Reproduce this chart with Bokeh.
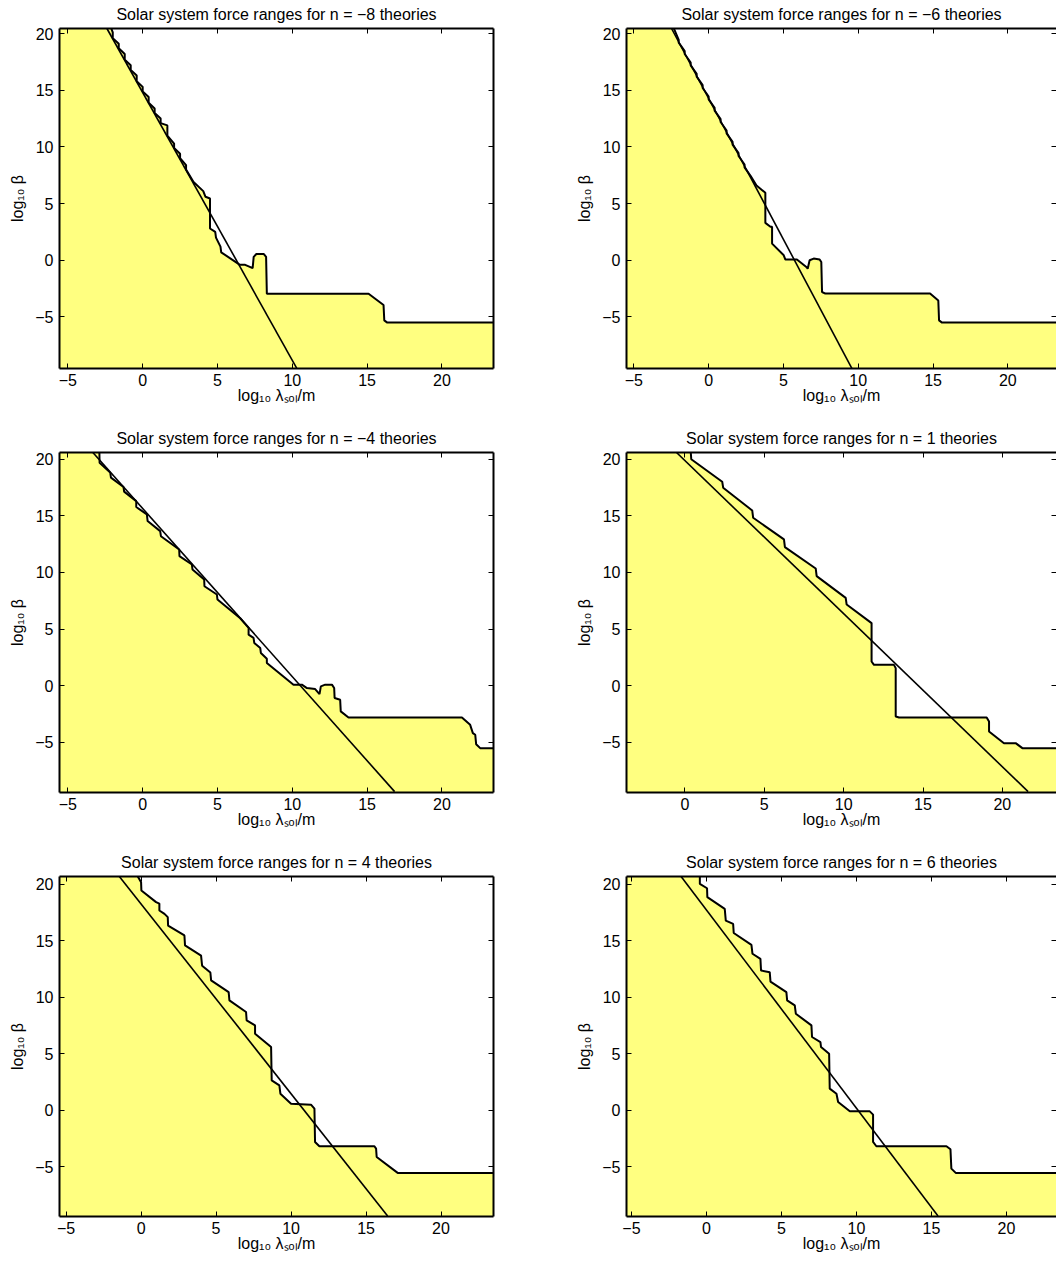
from bokeh.plotting import figure
from bokeh.models import Range1d, LinearAxis, FixedTicker
from bokeh.layouts import column, row
from bokeh.embed import file_html
from bokeh.resources import INLINE

# ---------------- data ----------------
n_values = [-8, -6, -4, 1, 4, 6]

x_ticks_full = [-5, 0, 5, 10, 15, 20]
x_ticks_n1 = [0, 5, 10, 15, 20]
y_ticks = [-5, 0, 5, 10, 15, 20]

# boundary of the allowed (yellow) region, n = -8
bound_x_m8 = [-6.0, -2.25, -2.0, -2.0, -1.6, -1.6, -1.2, -1.2, -0.8, -0.8, -0.4, -0.4, 0.0, 0.0,
              0.4, 0.4, 0.8, 0.8, 1.2, 1.2, 1.65, 1.65, 2.1, 2.1, 2.5, 2.5, 2.9, 2.9, 3.4, 4.05,
              4.2, 4.5, 4.5, 4.85, 4.9, 5.2, 5.25, 6.5, 6.85, 7.2, 7.35, 7.42, 7.6, 8.1, 8.25,
              8.3, 8.55, 15.1, 16.1, 16.15, 16.35, 24.5]
bound_y_m8 = [21.0, 21.0, 20.1, 19.6, 19.1, 18.7, 18.2, 17.7, 17.2, 16.8, 16.3, 15.8, 15.3, 14.9,
              14.4, 13.9, 13.4, 13.0, 12.5, 12.1, 11.9, 11.0, 10.3, 9.9, 9.4, 9.0, 8.4, 8.0, 6.9, 6.1,
              5.6, 5.45, 2.8, 2.5, 2.0, 1.2, 0.7, -0.4, -0.4, -0.6, -0.7, 0.3, 0.55, 0.55, 0.3,
              -2.95, -2.95, -2.95, -3.95, -5.3, -5.5, -5.5]
line_x_m8 = [-2.39, 10.31]
line_y_m8 = [20.45, -9.56]

# n = -6
bound_x_m6 = [-6.0, -2.5, -2.0, -2.0, -1.6, -1.6, -1.2, -1.2, -0.8, -0.8, -0.4, -0.4, 0.0, 0.0,
              0.4, 0.4, 0.8, 0.8, 1.2, 1.2, 1.6, 1.6, 2.0, 2.0, 2.4, 2.4, 2.8, 3.2, 3.79, 3.79,
              4.13, 4.24, 4.24, 5.02, 5.13, 5.9, 6.53, 6.62, 6.75, 7.02, 7.42, 7.53, 7.58, 7.8,
              14.8, 15.35, 15.4, 15.6, 24.5]
bound_y_m6 = [21.0, 21.0, 19.45, 19.2, 18.45, 18.2, 17.45, 17.2, 16.45, 16.2, 15.45, 15.2, 14.45, 14.2,
              13.45, 13.2, 12.45, 12.2, 11.45, 11.2, 10.45, 10.2, 9.45, 9.2, 8.45, 8.2, 7.45, 6.6, 5.95, 3.3,
              2.95, 2.95, 1.47, 0.44, 0.06, 0.06, -0.59, -0.74, 0.0, 0.15, 0.06, -0.15, -2.8, -2.94,
              -2.94, -3.55, -5.3, -5.5, -5.5]
line_x_m6 = [-2.48, 9.58]
line_y_m6 = [20.45, -9.56]

# n = -4
bound_x_m4 = [-6.0, -2.9, -2.88, -2.17, -2.12, -1.28, -1.24, -0.43, -0.43, 0.28, 0.33, 1.17, 1.22,
              2.44, 2.46, 3.29, 3.33, 4.11, 4.13, 4.96, 5.0, 6.52, 7.08, 7.08, 7.41, 7.46, 7.86, 7.9,
              8.3, 8.3, 10.08, 10.64, 10.98, 11.53, 11.82, 11.91, 12.2, 12.65, 12.8, 12.83, 13.2,
              13.24, 13.76, 21.34, 21.89, 22.07, 22.23, 22.29, 22.56, 24.5]
bound_y_m4 = [21.0, 21.0, 19.7, 18.82, 18.38, 17.55, 17.14, 16.3, 15.78, 15.13, 14.54, 13.65, 13.2,
              12.03, 11.44, 10.7, 10.26, 9.37, 8.78, 8.05, 7.6, 5.95, 5.1, 4.5, 4.21, 3.77, 3.32, 2.88,
              2.38, 1.99, 0.08, 0.08, -0.22, -0.31, -0.75, -0.07, 0.08, 0.08, -0.22, -1.1, -1.25,
              -2.28, -2.82, -2.82, -3.47, -4.2, -4.35, -5.18, -5.53, -5.53]
line_x_m4 = [-3.33, 16.84]
line_y_m4 = [20.6, -9.37]

# n = 1
bound_x_p1 = [-6.0, 0.35, 0.4, 2.35, 2.41, 4.24, 4.3, 6.24, 6.3, 8.24, 8.3, 10.13, 10.19, 11.76,
              11.76, 11.91, 13.17, 13.28, 13.28, 13.49, 19.01, 19.16, 19.16, 20.1, 20.84, 21.26, 24.5]
bound_y_p1 = [21.0, 21.0, 20.0, 18.02, 17.49, 15.48, 14.83, 12.92, 12.24, 10.35, 9.67, 7.75, 7.16, 5.52,
              2.13, 1.83, 1.83, 1.54, -2.73, -2.82, -2.82, -3.17, -4.06, -5.09, -5.09, -5.53, -5.53]
line_x_p1 = [-0.53, 21.62]
line_y_p1 = [20.6, -9.37]

# n = 4
bound_x_p4 = [-6.0, -0.35, 0.0, 0.02, 1.0, 1.22, 1.22, 1.56, 1.78, 1.8, 2.89, 2.93, 4.0, 4.07, 4.62,
              4.67, 5.84, 5.89, 7.0, 7.04, 7.6, 7.6, 8.67, 8.71, 9.22, 9.29, 10.0, 11.33, 11.56, 11.6,
              11.89, 15.56, 15.67, 15.71, 17.11, 24.5]
bound_y_p4 = [21.0, 21.0, 20.2, 19.46, 18.43, 18.3, 17.69, 17.39, 17.1, 16.36, 15.48, 14.6, 13.7, 12.8,
              12.2, 11.5, 10.47, 9.73, 8.7, 7.96, 7.52, 6.78, 5.6, 2.65, 2.21, 1.47, 0.59, 0.5, 0.15,
              -2.8, -3.18, -3.18, -3.39, -4.13, -5.54, -5.54]
line_x_p4 = [-1.45, 16.44]
line_y_p4 = [20.7, -9.35]

# n = 6
bound_x_p6 = [-6.0, -0.44, -0.44, 0.04, 0.06, 1.22, 1.29, 1.78, 1.82, 3.0, 3.07, 3.6, 3.64, 4.22,
              4.27, 5.33, 5.38, 5.89, 5.96, 7.0, 7.04, 7.6, 7.64, 8.18, 8.22, 8.67, 8.78, 9.56,
              10.89, 11.11, 11.11, 11.33, 16.0, 16.27, 16.33, 16.62, 24.5]
bound_y_p6 = [21.0, 21.0, 20.05, 19.66, 18.87, 17.84, 16.8, 16.5, 15.7, 14.65, 13.86, 13.41, 12.38, 12.23,
              11.4, 10.47, 9.73, 9.29, 8.55, 7.52, 6.49, 6.04, 5.6, 5.01, 1.92, 1.47, 0.74, -0.09,
              -0.09, -0.38, -2.8, -3.18, -3.18, -3.45, -5.16, -5.54, -5.54]
line_x_p6 = [-1.69, 15.44]
line_y_p6 = [20.7, -9.35]

# axis ranges of each panel
x_ranges = [(-5.56, 23.45), (-5.49, 23.25), (-5.56, 23.45), (-3.68, 23.41), (-5.44, 23.5), (-5.33, 23.34)]
y_ranges = [(-9.55, 20.45), (-9.55, 20.45), (-9.45, 20.6), (-9.45, 20.6), (-9.4, 20.7), (-9.4, 20.7)]

bounds = [(bound_x_m8, bound_y_m8), (bound_x_m6, bound_y_m6), (bound_x_m4, bound_y_m4),
          (bound_x_p1, bound_y_p1), (bound_x_p4, bound_y_p4), (bound_x_p6, bound_y_p6)]
lines = [(line_x_m8, line_y_m8), (line_x_m6, line_y_m6), (line_x_m4, line_y_m4),
         (line_x_p1, line_y_p1), (line_x_p4, line_y_p4), (line_x_p6, line_y_p6)]
x_tick_sets = [x_ticks_full, x_ticks_full, x_ticks_full, x_ticks_n1, x_ticks_full, x_ticks_full]

# ---------------- style ----------------
FONT = "Liberation Sans"
YELLOW = "#ffff80"
FS = "16px"


def minus(v):
    return str(v).replace("-", "\u2212")


def style_axis(ax, ticks, labels=True, line=True):
    ax.ticker = FixedTicker(ticks=ticks)
    ax.axis_line_color = "black" if line else None
    ax.axis_line_width = 2
    ax.major_tick_in = 5
    ax.major_tick_out = 0
    ax.major_tick_line_color = "black"
    ax.major_tick_line_width = 1
    ax.minor_tick_line_color = None
    ax.major_label_text_font = FONT
    if labels:
        ax.major_label_text_color = "black"
        ax.major_label_text_font_size = FS
        ax.major_label_overrides = {t: minus(t) for t in ticks if t < 0}
    else:
        ax.major_label_text_color = None
        ax.major_label_text_font_size = "0px"
        ax.major_label_standoff = 0
    ax.axis_label_text_font = FONT
    ax.axis_label_text_font_size = FS
    ax.axis_label_text_font_style = "normal"
    ax.axis_label_text_color = "black"


def make_panel(i):
    right_col = (i % 2 == 1)
    last_row = (i >= 4)
    width = 489 if right_col else 567
    height = 416 if last_row else 424
    p = figure(width=width, height=height,
               x_range=Range1d(*x_ranges[i]), y_range=Range1d(*y_ranges[i]),
               output_backend="svg", toolbar_location=None, tools="",
               min_border_left=59, min_border_right=0 if right_col else 74,
               min_border_top=28, min_border_bottom=48 if last_row else 56,
               x_axis_label="log\u2081\u2080 \u03bb\u209b\u2092\u2097/m",
               y_axis_label="log\u2081\u2080 \u03b2")
    p.grid.visible = False
    p.outline_line_color = None
    p.background_fill_color = "white"
    p.border_fill_color = "white"

    p.title.text = f"Solar system force ranges for n = {minus(n_values[i])} theories"
    p.title.align = "center"
    p.title.vertical_align = "top"
    p.title.text_font = FONT
    p.title.text_font_size = FS
    p.title.text_font_style = "normal"
    p.title.text_color = "black"
    p.title.standoff = 8

    xa = p.xaxis[0]
    ya = p.yaxis[0]
    style_axis(xa, x_tick_sets[i])
    style_axis(ya, y_ticks)
    xa.major_label_standoff = 5
    xa.axis_label_standoff = -2
    ya.major_label_standoff = 6
    ya.axis_label_standoff = 6

    top = LinearAxis()
    style_axis(top, x_tick_sets[i], labels=False)
    p.add_layout(top, "above")
    rgt = LinearAxis()
    style_axis(rgt, y_ticks, labels=False, line=not right_col)
    p.add_layout(rgt, "right")

    bx, by = bounds[i]
    lx, ly = lines[i]
    p.varea(x=bx, y1=y_ranges[i][0] - 5, y2=by, fill_color=YELLOW)
    p.line(bx, by, line_color="black", line_width=2)
    p.line(lx, ly, line_color="black", line_width=1.6)
    return p


panels = [make_panel(i) for i in range(6)]
layout = column(row(panels[0], panels[1]), row(panels[2], panels[3]), row(panels[4], panels[5]))

open("out.html", "w").write(file_html(layout, INLINE))
